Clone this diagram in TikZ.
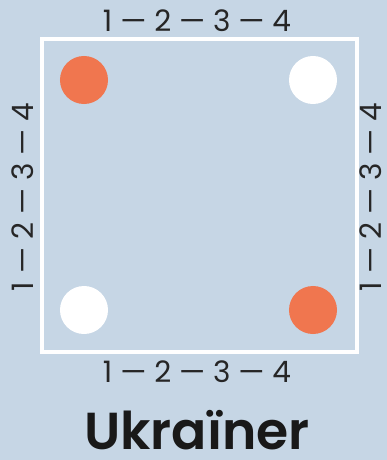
\documentclass[tikz,border=0pt]{standalone}
\usepackage{fontspec}
\setmainfont{Poppins}
\newfontfamily\marcafont{Poppins SemiBold}
\usepackage{xcolor}
\usepackage{tikz}
\usetikzlibrary{positioning}
\definecolor{fundo}{HTML}{C6D6E5}
\definecolor{laranja}{HTML}{F0764F}
\tikzset{
    quadro/.style={draw=white, line width=3.2pt},
    ponto/.style={circle, minimum size=1.2cm, inner sep=0pt},
    pontoLaranja/.style={ponto, fill=laranja},
    pontoBranco/.style={ponto, fill=white},
    contagem/.style={font=\fontsize{21}{24}\selectfont, text=black!85, inner sep=0pt,
        text height=15pt, text depth=0pt},
    marca/.style={font=\fontsize{37}{42}\marcafont, text=black!90, inner sep=0pt,
        text height=26pt, text depth=0pt}
}

\begin{document}
\begin{tikzpicture}[x=0.025cm, y=-0.025cm]

        \fill[fundo] (0,0) rectangle (387,460);

        \draw[quadro] (42,39) rectangle (357,352);

        \node[pontoLaranja] (sup_esq) at (84,80) {};
        \node[pontoBranco] (sup_dir) at (313,80) {};
        \node[pontoBranco] (inf_esq) at (84,310) {};
        \node[pontoLaranja] (inf_dir) at (313,310) {};

        \node[contagem] (topo) at (197,21)
        {1 — 2 — 3 — 4};

        \node[contagem] (base) at (197,372)
        {1 — 2 — 3 — 4};

        \node[contagem, rotate=90] (lado_esq) at (23,197)
        {1 — 2 — 3 — 4};

        \node[contagem, rotate=90] (lado_dir) at (371,197)
        {1 — 2 — 3 — 4};

        \node[marca] (logo) at (197,431)
        {Ukraïner};

    \end{tikzpicture}
\end{document}
